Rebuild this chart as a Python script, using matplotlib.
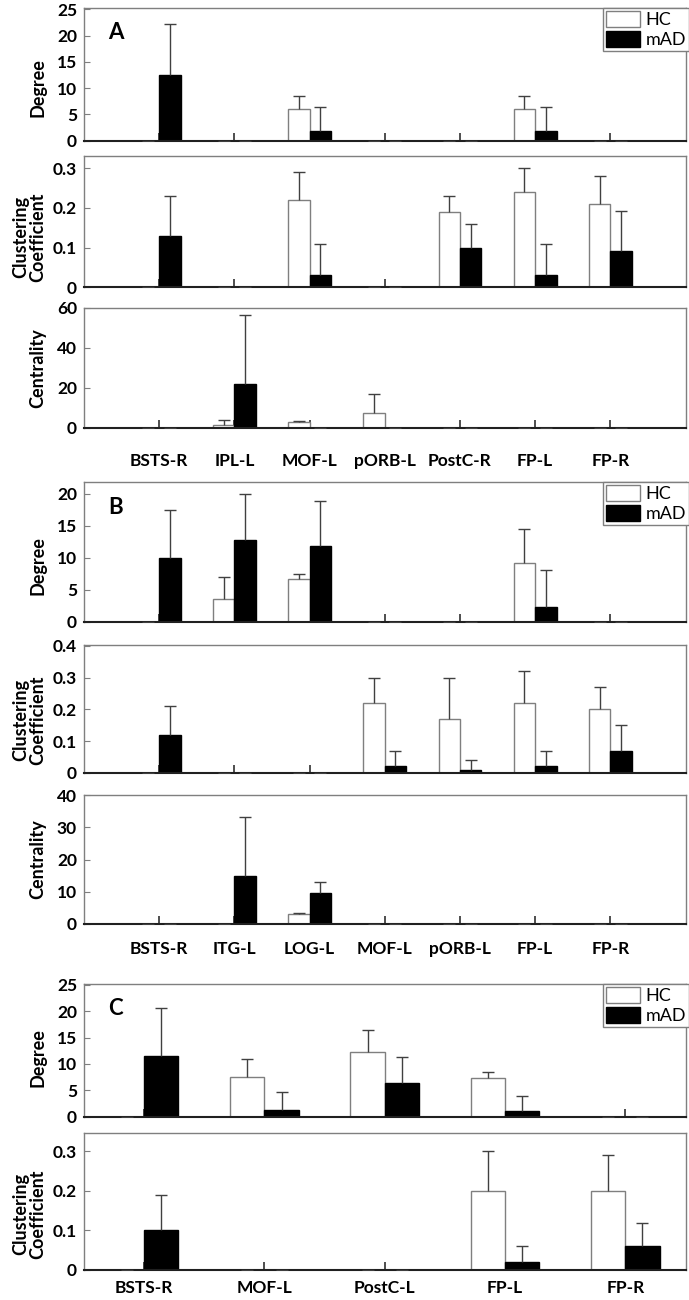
import numpy as np
import matplotlib.pyplot as plt

plt.rcParams['font.family'] = ['Lato', 'DejaVu Sans']

# ---- data ----
# panel A
a_regions = ['BSTS-R', 'IPL-L', 'MOF-L', 'pORB-L', 'PostC-R', 'FP-L', 'FP-R']
a_deg_hc = [0, 0, 6.1, 0, 0, 6.1, 0]
a_deg_hc_err = [0, 0, 2.4, 0, 0, 2.4, 0]
a_deg_mad = [12.5, 0, 1.9, 0, 0, 1.9, 0]
a_deg_mad_err = [9.7, 0, 4.45, 0, 0, 4.45, 0]
a_clu_hc = [0, 0, 0.22, 0, 0.19, 0.24, 0.21]
a_clu_hc_err = [0, 0, 0.07, 0, 0.04, 0.06, 0.07]
a_clu_mad = [0.13, 0, 0.03, 0, 0.10, 0.03, 0.092]
a_clu_mad_err = [0.10, 0, 0.08, 0, 0.06, 0.08, 0.10]
a_cen_hc = [0, 1.5, 2.8, 7.5, 0, 0, 0]
a_cen_hc_err = [0, 2.5, 0.7, 9.5, 0, 0, 0]
a_cen_mad = [0, 22.0, 0, 0, 0, 0, 0]
a_cen_mad_err = [0, 34.3, 0, 0, 0, 0, 0]

# panel B
b_regions = ['BSTS-R', 'ITG-L', 'LOG-L', 'MOF-L', 'pORB-L', 'FP-L', 'FP-R']
b_deg_hc = [0, 3.6, 6.7, 0, 0, 9.2, 0]
b_deg_hc_err = [0, 3.4, 0.8, 0, 0, 5.3, 0]
b_deg_mad = [9.9, 12.8, 11.8, 0, 0, 2.3, 0]
b_deg_mad_err = [7.5, 7.1, 7.1, 0, 0, 5.8, 0]
b_clu_hc = [0, 0, 0, 0.22, 0.17, 0.22, 0.20]
b_clu_hc_err = [0, 0, 0, 0.08, 0.13, 0.10, 0.07]
b_clu_mad = [0.12, 0, 0, 0.02, 0.01, 0.02, 0.07]
b_clu_mad_err = [0.09, 0, 0, 0.05, 0.03, 0.05, 0.08]
b_cen_hc = [0, 0, 3.0, 0, 0, 0, 0]
b_cen_hc_err = [0, 0, 0.5, 0, 0, 0, 0]
b_cen_mad = [0, 15.0, 9.6, 0, 0, 0, 0]
b_cen_mad_err = [0, 18.2, 3.3, 0, 0, 0, 0]

# panel C
c_regions = ['BSTS-R', 'MOF-L', 'PostC-L', 'FP-L', 'FP-R']
c_deg_hc = [0, 7.6, 12.3, 7.4, 0]
c_deg_hc_err = [0, 3.3, 4.1, 1.1, 0]
c_deg_mad = [11.5, 1.2, 6.4, 1.1, 0]
c_deg_mad_err = [9.2, 3.4, 4.9, 2.9, 0]
c_clu_hc = [0, 0, 0, 0.20, 0.20]
c_clu_hc_err = [0, 0, 0, 0.10, 0.09]
c_clu_mad = [0.10, 0, 0, 0.02, 0.06]
c_clu_mad_err = [0.09, 0, 0, 0.04, 0.06]

deg_ticks = [0, 5, 10, 15, 20, 25]
deg_ticks_b = [0, 5, 10, 15, 20]
clu_ticks = [0, 0.1, 0.2, 0.3]
clu_ticks_b = [0, 0.1, 0.2, 0.3, 0.4]
cen_ticks_a = [0, 20, 40, 60]
cen_ticks_b = [0, 10, 20, 30, 40]

W, H = 689, 1300
GRAY = '#7f7f7f'
fig = plt.figure(figsize=(W / 100, H / 100), dpi=100)


def add_ax(top, bottom):
    return fig.add_axes([84 / W, 1 - bottom / H, 601.5 / W, (bottom - top) / H])


def panel(ax, regions, hc, hc_err, mad, mad_err, ylim, yticks, ylabel, label_y,
          letter=None, show_x=False, xpad=10):
    x = np.arange(len(regions))
    w = 0.285
    ax.bar(x - w / 2, hc, w, color='white', edgecolor=GRAY, lw=1, label='HC', zorder=2)
    ax.bar(x + w / 2, mad, w, color='black', edgecolor='black', lw=1, label='mAD', zorder=2)
    for xs, v, e in ((x - w / 2, hc, hc_err), (x + w / 2, mad, mad_err)):
        _, caps, _ = ax.errorbar(xs, v, yerr=[np.zeros(len(e)), e], fmt='none',
                                 ecolor='#404040', elinewidth=1, capsize=4,
                                 capthick=1, zorder=3)
        caps[0].set_visible(False)

    n = len(regions)
    if n == 7:
        ax.set_xlim(-1, 7)
    else:
        ax.set_xlim(-0.5, n - 0.5)
    ax.set_ylim(*ylim)
    ax.set_axisbelow('line')

    ax.set_xticks(x)
    if show_x:
        ax.set_xticklabels(regions, fontsize=12.5, fontweight='bold')
    else:
        ax.set_xticklabels([])
    ax.tick_params(axis='x', direction='in', length=6, width=1.2, color='#303030', pad=xpad)
    ax.set_yticks(yticks)
    ax.set_yticklabels([f'{t:g}' for t in yticks], fontsize=12.5, fontweight='bold')
    ax.tick_params(axis='y', direction='in', length=4, color=GRAY, pad=5)

    for s in ('top', 'right', 'left'):
        ax.spines[s].set_color(GRAY)
        ax.spines[s].set_linewidth(1)
    ax.spines['bottom'].set_color('#202020')
    ax.spines['bottom'].set_linewidth(1.5)

    ax.set_ylabel(ylabel, fontsize=13, fontweight='bold', linespacing=1.0)
    ax.yaxis.set_label_coords(-0.062, label_y)

    if letter:
        ax.text(0.04, 0.82, letter, transform=ax.transAxes, fontsize=16,
                fontweight='bold', va='center')
        ax.legend(loc='upper right', bbox_to_anchor=(1.005, 1.0), borderaxespad=0,
                  fontsize=13, fancybox=False, edgecolor=GRAY, framealpha=1,
                  handlelength=1.9, handleheight=1.0, handletextpad=0.3,
                  labelspacing=0.15, borderpad=0.15)


ax = add_ax(8.3, 140.7)
panel(ax, a_regions, a_deg_hc, a_deg_hc_err, a_deg_mad, a_deg_mad_err,
      (0, 25.2), deg_ticks, 'Degree', 0.40, letter='A')
ax = add_ax(156, 287.3)
panel(ax, a_regions, a_clu_hc, a_clu_hc_err, a_clu_mad, a_clu_mad_err,
      (0, 0.331), clu_ticks, 'Clustering\nCoefficient', 0.38)
ax = add_ax(308, 427.7)
panel(ax, a_regions, a_cen_hc, a_cen_hc_err, a_cen_mad, a_cen_mad_err,
      (0, 60), cen_ticks_a, 'Centrality', 0.5, show_x=True, xpad=18)

ax = add_ax(482.3, 621.7)
panel(ax, b_regions, b_deg_hc, b_deg_hc_err, b_deg_mad, b_deg_mad_err,
      (0, 21.8), deg_ticks_b, 'Degree', 0.40, letter='B')
ax = add_ax(645, 772.7)
panel(ax, b_regions, b_clu_hc, b_clu_hc_err, b_clu_mad, b_clu_mad_err,
      (0, 0.403), clu_ticks_b, 'Clustering\nCoefficient', 0.41)
ax = add_ax(795, 924)
panel(ax, b_regions, b_cen_hc, b_cen_hc_err, b_cen_mad, b_cen_mad_err,
      (0, 40), cen_ticks_b, 'Centrality', 0.5, show_x=True, xpad=12)

ax = add_ax(984.3, 1116.7)
panel(ax, c_regions, c_deg_hc, c_deg_hc_err, c_deg_mad, c_deg_mad_err,
      (0, 25.1), deg_ticks, 'Degree', 0.45, letter='C')
ax = add_ax(1133.3, 1270)
panel(ax, c_regions, c_clu_hc, c_clu_hc_err, c_clu_mad, c_clu_mad_err,
      (0, 0.346), clu_ticks, 'Clustering\nCoefficient', 0.41, show_x=True, xpad=7)

fig.savefig('out.png', dpi=100)
